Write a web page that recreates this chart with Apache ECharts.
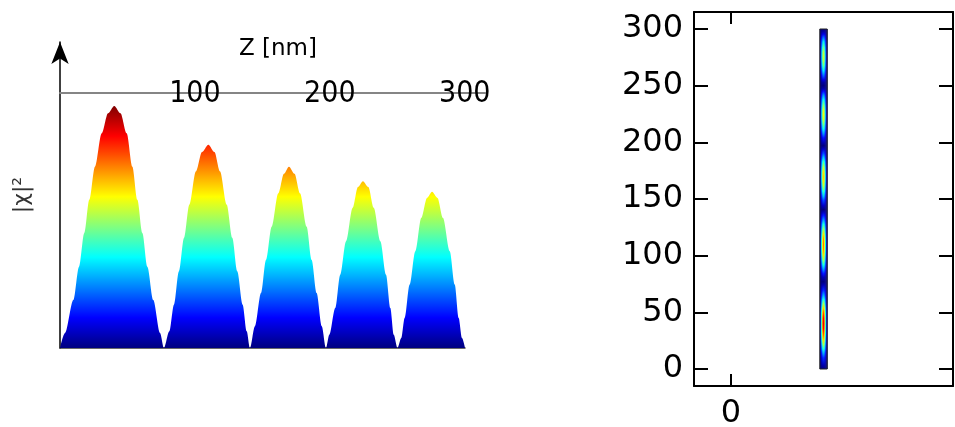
<!DOCTYPE html>
<html>
<head>
<meta charset="utf-8">
<script src="https://cdn.jsdelivr.net/npm/echarts@6/dist/echarts.min.js"></script>
<style>
  html, body { margin: 0; padding: 0; background: #fff; }
  #chart { width: 955px; height: 427px; }
</style>
</head>
<body>
<div id="chart"></div>
<script>
// Depth profile of |chi|^2 along Z (nm)
const zPos = [
  0, 3.7, 9.9, 14.1, 18.0, 21.7, 25.9, 30.9, 35.6, 40.2, 44.8, 49.4, 53.6, 57.3, 61.0, 64.7, 69.1, 74.1, 77.0,
  81.0, 84.4, 88.1, 91.9, 95.8, 100.7, 105.2, 109.9, 114.4, 118.5, 123.5, 127.6, 131.3, 135.3, 138.3, 140.7,
  144.4, 148.9, 152.6, 156.8, 161.7, 165.9, 169.6, 173.7, 177.8, 182.7, 186.4, 190.1, 193.9, 197.0,
  199.5, 203.9, 207.6, 211.9, 216.8, 220.7, 224.4, 228.4, 232.4, 237.3, 241.5, 244.7, 247.2, 250.0,
  252.8, 255.3, 259.0, 263.2, 267.6, 271.9, 275.6, 279.6, 283.7, 288.7, 292.4, 295.3, 297.8, 300
];
const chiSq = [
  0, 0.062, 0.198, 0.336, 0.475, 0.612, 0.749, 0.887, 0.97, 1.0, 0.97, 0.887, 0.749, 0.612, 0.475, 0.336, 0.198, 0.062, 0,
  0.069, 0.179, 0.317, 0.455, 0.592, 0.730, 0.81, 0.840, 0.81, 0.730, 0.592, 0.455, 0.317, 0.179, 0.069, 0,
  0.090, 0.227, 0.364, 0.501, 0.639, 0.72, 0.749, 0.72, 0.639, 0.501, 0.364, 0.227, 0.090, 0,
  0.055, 0.165, 0.303, 0.441, 0.579, 0.665, 0.689, 0.665, 0.579, 0.441, 0.303, 0.165, 0.055, 0,
  0.041, 0.124, 0.262, 0.400, 0.537, 0.62, 0.645, 0.62, 0.537, 0.400, 0.262, 0.124, 0.041, 0
];

// Tick labels
const depthTicks = [100, 200, 300];
const heightTicks = [0, 50, 100, 150, 200, 250, 300];
const widthTicks = [0];

// Cross-section of the thin strip in the map view (relative weight per column)
const stripProfile = [0.1, 0.42, 0.75, 0.9, 0.75, 0.42, 0.1];
const stripSpan = [2.4, 2.6];

// jet colormap
function jet(t) {
  const c = (v) => Math.round(255 * Math.max(0, Math.min(1, v)));
  const r = 1.5 - Math.abs(4 * t - 3);
  const g = 1.5 - Math.abs(4 * t - 2);
  const b = 1.5 - Math.abs(4 * t - 1);
  return 'rgb(' + c(r) + ',' + c(g) + ',' + c(b) + ')';
}

const areaStops = [];
for (let i = 0; i <= 40; i++) {
  const t = i / 40;
  areaStops.push({ offset: t, color: jet(1 - t) });
}

const chart = echarts.init(document.getElementById('chart'), null, { renderer: 'canvas' });

const tickFont = { fontFamily: 'DejaVu Sans', fontSize: 32, color: '#000' };
const frameLine = { show: true, onZero: false, lineStyle: { color: '#000', width: 2 } };

const option = {
  animation: false,
  backgroundColor: '#fff',
  grid: [
    { left: 60, top: 42, width: 405, height: 306, outerBoundsMode: 'none' },
    { left: 60, top: 93, width: 425, height: 10, outerBoundsMode: 'none' },
    { left: 694, top: 12, width: 259, height: 374, outerBoundsMode: 'none' }
  ],
  xAxis: [
    {
      gridIndex: 0, type: 'value', min: 0, max: 300,
      axisLine: { show: true, onZero: false, lineStyle: { color: '#3a3a3a', width: 1.5 } },
      axisTick: { show: false }, axisLabel: { show: false }, splitLine: { show: false }
    },
    {
      gridIndex: 1, type: 'value', position: 'top', min: 0, max: 315,
      axisLine: { show: true, onZero: false, lineStyle: { color: '#858585', width: 2 } },
      axisTick: { show: false },
      axisLabel: {
        customValues: depthTicks, margin: -16,
        fontFamily: 'DejaVu Sans Condensed', fontSize: 30, color: '#000'
      },
      splitLine: { show: false },
      name: 'Z [nm]', nameLocation: 'middle', nameGap: 32,
      nameTextStyle: { fontFamily: 'DejaVu Sans', fontSize: 23, color: '#000', padding: [0, 0, 0, 11] }
    },
    {
      gridIndex: 2, type: 'value', min: -1, max: 6,
      axisLine: frameLine,
      axisTick: { show: true, inside: true, length: 12, customValues: widthTicks, lineStyle: { color: '#000', width: 2 } },
      axisLabel: Object.assign({ customValues: widthTicks, margin: 12 }, tickFont),
      splitLine: { show: false }
    },
    {
      gridIndex: 2, type: 'value', position: 'top', min: -1, max: 6,
      axisLine: frameLine,
      axisTick: { show: true, inside: true, length: 12, customValues: widthTicks, lineStyle: { color: '#000', width: 2 } },
      axisLabel: { show: false }, splitLine: { show: false }
    }
  ],
  yAxis: [
    {
      gridIndex: 0, type: 'value', min: 0, max: 1.264,
      axisLine: {
        show: true, onZero: false, symbol: ['none', 'arrow'], symbolSize: [13, 22],
        lineStyle: { color: '#000', width: 1.5 }
      },
      axisTick: { show: false }, axisLabel: { show: false }, splitLine: { show: false },
      name: '|χ|²', nameLocation: 'middle', nameGap: 27, nameRotate: 90,
      nameTextStyle: { fontFamily: 'DejaVu Sans', fontSize: 22, color: '#333' }
    },
    { gridIndex: 1, type: 'value', show: false },
    {
      gridIndex: 2, type: 'value', min: -15, max: 315,
      axisLine: frameLine,
      axisTick: { show: true, inside: true, length: 14, customValues: heightTicks, lineStyle: { color: '#000', width: 2 } },
      axisLabel: Object.assign({ customValues: heightTicks, margin: 11 }, tickFont),
      splitLine: { show: false }
    },
    {
      gridIndex: 2, type: 'value', position: 'right', min: -15, max: 315,
      axisLine: frameLine,
      axisTick: { show: true, inside: true, length: 14, customValues: heightTicks, lineStyle: { color: '#000', width: 2 } },
      axisLabel: { show: false }, splitLine: { show: false }
    }
  ],
  series: [
    {
      type: 'line', xAxisIndex: 0, yAxisIndex: 0,
      data: zPos.map((z, i) => [z, chiSq[i]]),
      smooth: 0.3, smoothMonotone: 'x',
      showSymbol: false, silent: true,
      lineStyle: { width: 0, opacity: 0 },
      areaStyle: { opacity: 1, color: new echarts.graphic.LinearGradient(0, 0, 0, 1, areaStops) }
    },
    {
      type: 'custom', xAxisIndex: 2, yAxisIndex: 2, silent: true,
      data: stripProfile.map((w, i) => [i, w]),
      renderItem: function (params, api) {
        const i = api.value(0);
        const w = api.value(1);
        const colW = (stripSpan[1] - stripSpan[0]) / stripProfile.length;
        const x0 = stripSpan[0] + i * colW;
        const p0 = api.coord([x0, zPos[zPos.length - 1]]);
        const p1 = api.coord([x0 + colW, zPos[0]]);
        const stops = [];
        for (let k = zPos.length - 1; k >= 0; k--) {
          stops.push({ offset: (zPos[zPos.length - 1] - zPos[k]) / (zPos[zPos.length - 1] - zPos[0]), color: jet(chiSq[k] * w) });
        }
        return {
          type: 'rect',
          shape: { x: p0[0], y: p0[1], width: p1[0] - p0[0] + 0.4, height: p1[1] - p0[1] },
          style: { fill: new echarts.graphic.LinearGradient(0, 0, 0, 1, stops) }
        };
      }
    },
    {
      type: 'custom', xAxisIndex: 2, yAxisIndex: 2, silent: true,
      data: [[stripSpan[0], stripSpan[1]]],
      renderItem: function (params, api) {
        const p0 = api.coord([api.value(0), zPos[zPos.length - 1]]);
        const p1 = api.coord([api.value(1), zPos[0]]);
        return {
          type: 'rect',
          shape: { x: p0[0], y: p0[1], width: p1[0] - p0[0], height: p1[1] - p0[1] },
          style: { fill: 'none', stroke: '#222', lineWidth: 1 }
        };
      }
    }
  ]
};

chart.setOption(option);
</script>
</body>
</html>
